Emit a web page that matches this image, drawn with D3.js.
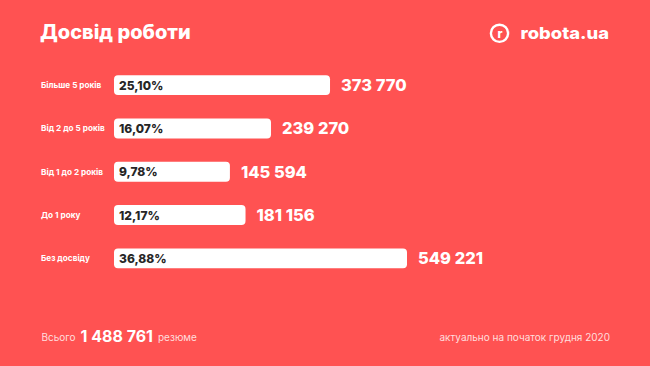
<!DOCTYPE html>
<html><head><meta charset="utf-8">
<script src="https://cdn.jsdelivr.net/npm/d3@7/dist/d3.min.js"></script>
<style>html,body{margin:0;padding:0;background:#ff5252;}svg{display:block;}</style>
</head><body>
<script>
const categories = ["Більше 5 років", "Від 2 до 5 років", "Від 1 до 2 років", "До 1 року", "Без досвіду"];
const percents = [25.10, 16.07, 9.78, 12.17, 36.88];
const percentLabels = ["25,10%", "16,07%", "9,78%", "12,17%", "36,88%"];
const counts = ["373 770", "239 270", "145 594", "181 156", "549 221"];
const total = "1 488 761";

const W = 650, H = 366;
const svg = d3.select("body").append("svg").attr("width", W).attr("height", H);
svg.append("rect").attr("width", W).attr("height", H).attr("fill", "#ff5252");

const font = "Inter, 'Noto Sans', sans-serif";

// title
svg.append("text").attr("x", 40).attr("y", 39).text("Досвід роботи")
  .attr("fill", "#fff").attr("font-family", font).attr("font-weight", 800).attr("font-size", 20);

// logo
svg.append("circle").attr("cx", 499.5).attr("cy", 33.3).attr("r", 8.6).attr("fill", "none")
  .attr("stroke", "#fff").attr("stroke-width", 2.4);
svg.append("text").attr("x", 500).attr("y", 37.5).attr("text-anchor", "middle").text("r")
  .attr("fill", "#fff").attr("font-family", font).attr("font-weight", 800).attr("font-size", 12);
svg.append("text").attr("x", 520.5).attr("y", 38.5).text("robota.ua")
  .attr("fill", "#fff").attr("font-family", font).attr("font-weight", 800).attr("font-size", 16.5)
  .attr("textLength", 88.5).attr("lengthAdjust", "spacingAndGlyphs");

// scales
const x0 = 114;
const x = d3.scaleLinear().domain([0, 36.88]).range([166, 407]);
const y = d3.scaleBand().domain(categories).range([63.5, 280]).paddingInner(0.54).paddingOuter(0.27);

const g = svg.append("g");
const rows = g.selectAll("g.row").data(categories).join("g").attr("class", "row");

rows.append("rect")
  .attr("x", x0)
  .attr("y", d => y(d))
  .attr("width", (d, i) => x(percents[i]) - x0)
  .attr("height", y.bandwidth())
  .attr("rx", 4)
  .attr("fill", "#fff");

rows.append("text")
  .attr("x", 41)
  .attr("y", d => y(d) + y.bandwidth() / 2 + 3)
  .text(d => d)
  .attr("fill", "#fff").attr("font-family", font).attr("font-weight", 700).attr("font-size", 8.2);

rows.append("text")
  .attr("x", 119)
  .attr("y", d => y(d) + y.bandwidth() / 2 + 4.5)
  .text((d, i) => percentLabels[i])
  .attr("fill", "#262626").attr("font-family", font).attr("font-weight", 800).attr("font-size", 12);

rows.append("text")
  .attr("x", (d, i) => x(percents[i]) + 11)
  .attr("y", d => y(d) + y.bandwidth() / 2 + 6)
  .text((d, i) => counts[i])
  .attr("fill", "#fff").attr("font-family", font).attr("font-weight", 800).attr("font-size", 16.5);

// footer
const footColor = "#ffdede";
svg.append("text").attr("x", 41.5).attr("y", 341).text("Всього")
  .attr("font-family", font).attr("font-size", 10).attr("fill", footColor);
svg.append("text").attr("x", 80.5).attr("y", 341.5).text(total)
  .attr("font-family", font).attr("font-size", 16).attr("font-weight", 700).attr("fill", "#fff")
  .attr("textLength", 72.5).attr("lengthAdjust", "spacingAndGlyphs");
svg.append("text").attr("x", 158).attr("y", 341).text("резюме")
  .attr("font-family", font).attr("font-size", 10).attr("fill", footColor);

svg.append("text").attr("x", 610).attr("y", 341).attr("text-anchor", "end")
  .text("актуально на початок грудня 2020")
  .attr("font-family", font).attr("font-size", 10).attr("fill", footColor);
</script>
</body></html>
